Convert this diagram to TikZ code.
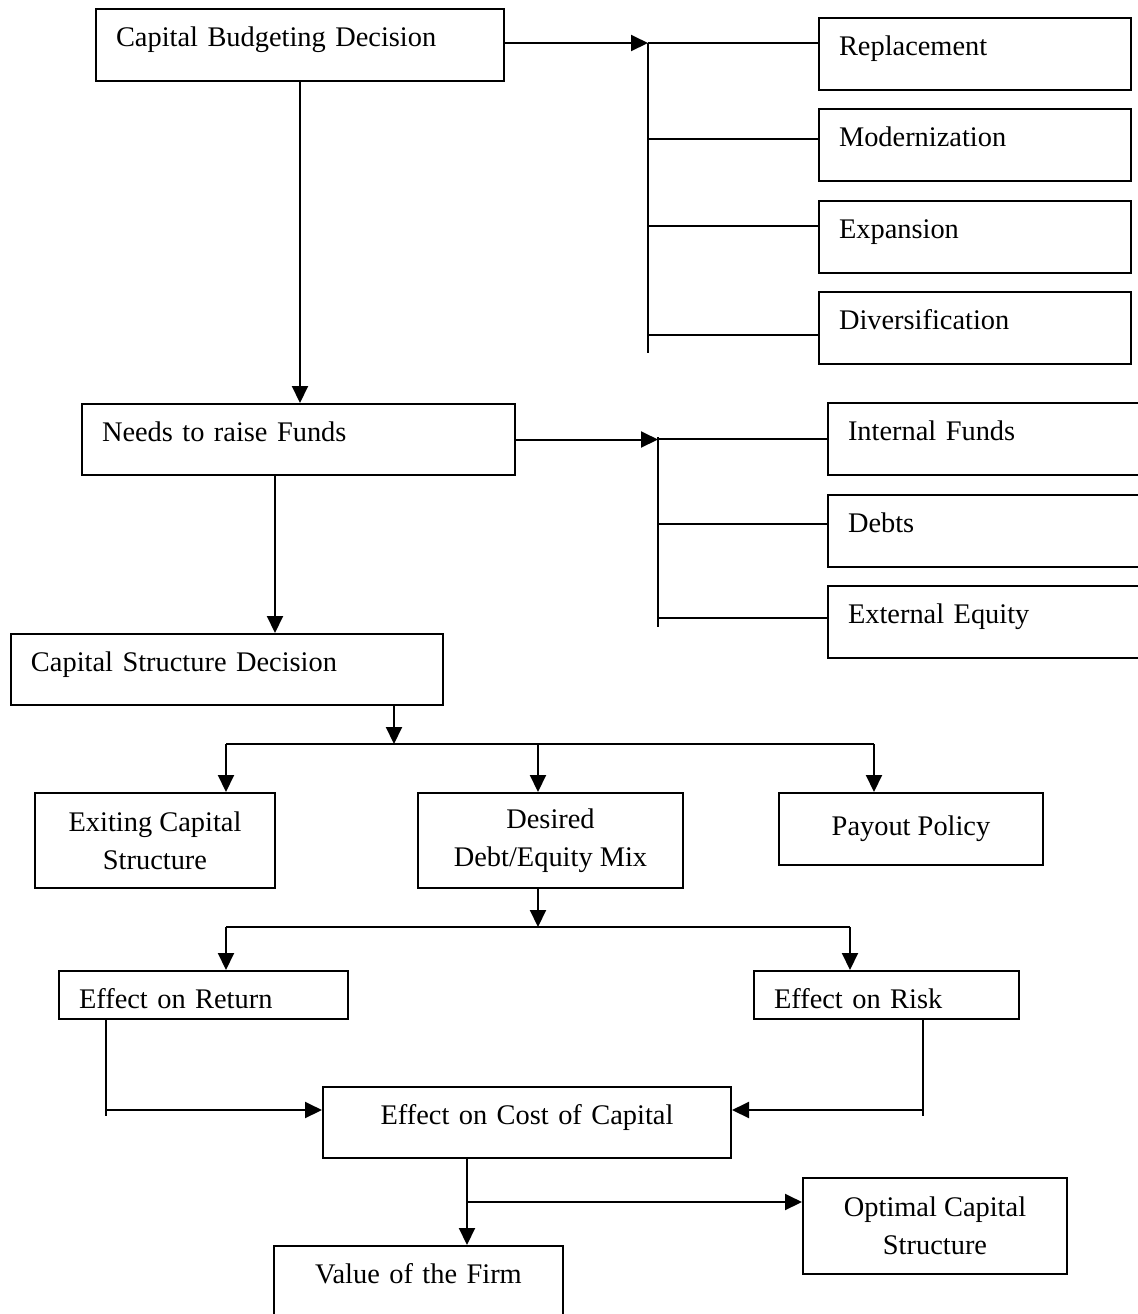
\documentclass[tikz,border=0pt]{standalone}
\usepackage{fontspec}
\setmainfont{Liberation Serif}
\usepackage{tikz}
\usetikzlibrary{shapes, arrows.meta, positioning, calc}

\tikzset{
  leftbox/.style n args={2}{draw, anchor=north west, align=left, inner xsep=10pt, inner ysep=0pt,
    text width=#1, text height=18.5pt, text depth=#2},
  midbox/.style n args={2}{draw, anchor=north west, align=center, inner sep=0pt,
    minimum width=#1, minimum height=#2},
  topbox/.style n args={2}{draw, anchor=north west, align=center, inner sep=0pt,
    text width=#1, text height=18.5pt, text depth=#2},
  arr/.style={-{Triangle[length=8.5pt, width=8pt]}},
}

\begin{document}
\begin{tikzpicture}[x=0.5pt, y=-0.5pt, line width=1pt,
    every node/.style={font=\fontsize{14.2}{19}\selectfont}]
  \useasboundingbox (0,0) rectangle (1138,1314);
  \clip (0,0) rectangle (1138,1314);

  % decision boxes
  \node[leftbox={184pt}{17.5pt}] (cbd) at (95,8) {Capital Budgeting Decision};
  \node[leftbox={196.5pt}{17pt}] (nrf) at (81,403) {Needs to raise Funds};
  \node[leftbox={196pt}{17pt}] (csd) at (10,633) {Capital Structure Decision};

  % kinds of projects
  \node[leftbox={136pt}{17.5pt}] (rep) at (818,17) {Replacement};
  \node[leftbox={136pt}{17.5pt}] (mod) at (818,108) {Modernization};
  \node[leftbox={136pt}{17.5pt}] (exp) at (818,200) {Expansion};
  \node[leftbox={136pt}{17.5pt}] (div) at (818,291) {Diversification};

  % sources of funds
  \node[leftbox={135.5pt}{17.5pt}] (intf) at (827,402) {Internal Funds};
  \node[leftbox={135.5pt}{17.5pt}] (debt) at (827,494) {Debts};
  \node[leftbox={135.5pt}{17.5pt}] (exteq) at (827,585) {External Equity};

  % structure choices
  \node[midbox={120pt}{47.5pt}] (exist) at (34,792) {Exiting Capital\\Structure};
  \node[midbox={132.5pt}{47.5pt}] (ddem) at (417,792) {Desired\\Debt/Equity Mix};
  \node[midbox={132pt}{36pt}] (pay) at (778,792) {Payout Policy};

  \node[leftbox={124.5pt}{5.5pt}] (ret) at (58,970) {Effect on Return};
  \node[leftbox={112.5pt}{5.5pt}] (risk) at (753,970) {Effect on Risk};
  \node[topbox={204pt}{17pt}] (coc) at (322,1086) {Effect on Cost of Capital};
  \node[midbox={132pt}{48pt}] (opt) at (802,1177) {Optimal Capital\\Structure};
  \node[topbox={144.5pt}{40pt}] (vof) at (273,1245) {Value of the Firm};

  % junction points
  \coordinate (hubA) at (648,43);
  \coordinate (hubB) at (658,437);
  \coordinate (nrfstem) at ([xshift=-11.75pt]nrf.south);
  \coordinate (csdhub) at (394,744);
  \coordinate (csdL) at (226,744);
  \coordinate (csdM) at (538,744);
  \coordinate (csdR) at (874,744);
  \coordinate (ddemhub) at (538,927);
  \coordinate (ddemL) at (226,927);
  \coordinate (ddemR) at (850,927);
  \coordinate (retturn) at (106,1110);
  \coordinate (riskturn) at (923,1110);
  \coordinate (cocstem) at (467,1202);

  % capital budgeting
  \draw[arr] (cbd.south) -- (cbd.south |- nrf.north);
  \draw[arr] (cbd.east |- hubA) -- (hubA);
  \draw (hubA) -- ++(0,310);
  \foreach \b/\s in {rep/5.5pt, mod/3pt, exp/5.5pt, div/-3.5pt}
    \draw ([yshift=\s]\b.west) -- ++(-170,0);

  % funds
  \draw[arr] (nrf.east) -- (nrf.east -| hubB);
  \draw (hubB) -- ++(0,190);
  \foreach \b/\s in {intf/0pt, debt/3.5pt, exteq/2pt}
    \draw ([yshift=\s]\b.west) -- ++(-169,0);
  \draw[arr] (nrfstem) -- (nrfstem |- csd.north);

  % capital structure
  \draw[arr] (csd.south -| csdhub) -- (csdhub);
  \draw (csdL) -- (csdR);
  \foreach \b/\c in {exist/csdL, ddem/csdM, pay/csdR}
    \draw[arr] (\c) -- (\c |- \b.north);

  \draw[arr] (ddem.south -| ddemhub) -- (ddemhub);
  \draw (ddemL) -- (ddemR);
  \draw[arr] (ddemL) -- (ddemL |- ret.north);
  \draw[arr] (ddemR) -- (ddemR |- risk.north);

  % return and risk
  \draw (ret.south -| retturn) -- ([yshift=-3pt]retturn);
  \draw[arr] (retturn) -- (retturn -| coc.west);
  \draw (risk.south -| riskturn) -- ([yshift=-3pt]riskturn);
  \draw[arr] (riskturn) -- (riskturn -| coc.east);

  % outcome
  \draw[arr] (coc.south -| cocstem) -- (cocstem |- vof.north);
  \draw[arr] (cocstem) -- (cocstem -| opt.west);
\end{tikzpicture}
\end{document}
